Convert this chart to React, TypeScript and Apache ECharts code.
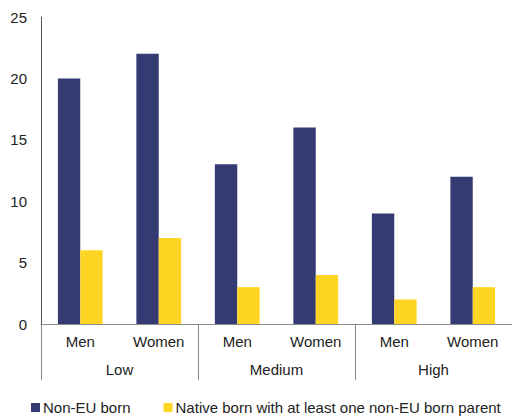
import * as echarts from "echarts";
import { useEffect, useRef } from "react";

const genders = ["Men", "Women", "Men", "Women", "Men", "Women"];
const levels = ["Low", "Medium", "High"];

const nonEuBorn = [20, 22, 13, 16, 9, 12];
const nativeBorn = [6, 7, 3, 4, 2, 3];

const NAVY = "#343b72";
const YELLOW = "#ffd523";
const FONT = "'Liberation Sans', Arial, sans-serif";

export default function App() {
	const chartRef = useRef<HTMLDivElement>(null);

	useEffect(() => {
		if (!chartRef.current) return;
		const chart = echarts.init(chartRef.current, undefined, { renderer: "svg" });
		chart.setOption({
			animation: false,
			textStyle: { fontFamily: FONT },
			grid: { left: 41, right: 0, top: 17, bottom: 94, containLabel: false },
			legend: {
				data: ["Non-EU born", "Native born with at least one non-EU born parent"],
				left: 31,
				bottom: 3,
				icon: "rect",
				itemWidth: 9,
				itemHeight: 9,
				itemGap: 33,
				padding: 0,
				textStyle: { fontSize: 15, color: "#222", fontFamily: FONT, padding: [0, 0, 0, -2] },
			},
			xAxis: [
				{
					type: "category",
					data: genders,
					position: "bottom",
					axisLine: { show: true, lineStyle: { color: "#8a8a8a", width: 1 } },
					axisTick: { show: false },
					axisLabel: { color: "#222", fontSize: 15, margin: 10, fontFamily: FONT },
				},
				{
					type: "category",
					data: levels,
					position: "bottom",
					axisLine: { show: false },
					axisTick: { show: true, length: 56, lineStyle: { color: "#8a8a8a", width: 1 } },
					axisLabel: { color: "#222", fontSize: 15, margin: 38, fontFamily: FONT },
				},
			],
			yAxis: {
				type: "value",
				min: 0,
				max: 25,
				interval: 5,
				axisLine: { show: true, lineStyle: { color: "#555", width: 1 } },
				axisTick: { show: false },
				splitLine: { show: false },
				axisLabel: { color: "#222", fontSize: 15, margin: 14, fontFamily: FONT },
			},
			series: [
				{
					name: "Non-EU born",
					type: "bar",
					data: nonEuBorn,
					barWidth: "28.5%",
					barGap: "0%",
					itemStyle: { color: NAVY },
				},
				{
					name: "Native born with at least one non-EU born parent",
					type: "bar",
					data: nativeBorn,
					barWidth: "28.5%",
					barGap: "0%",
					itemStyle: { color: YELLOW },
				},
			],
		});
		return () => chart.dispose();
	}, []);

	return (
		<div
			ref={chartRef}
			style={{ position: "absolute", left: 0, top: 0, width: 512, height: 418 }}
		/>
	);
}
